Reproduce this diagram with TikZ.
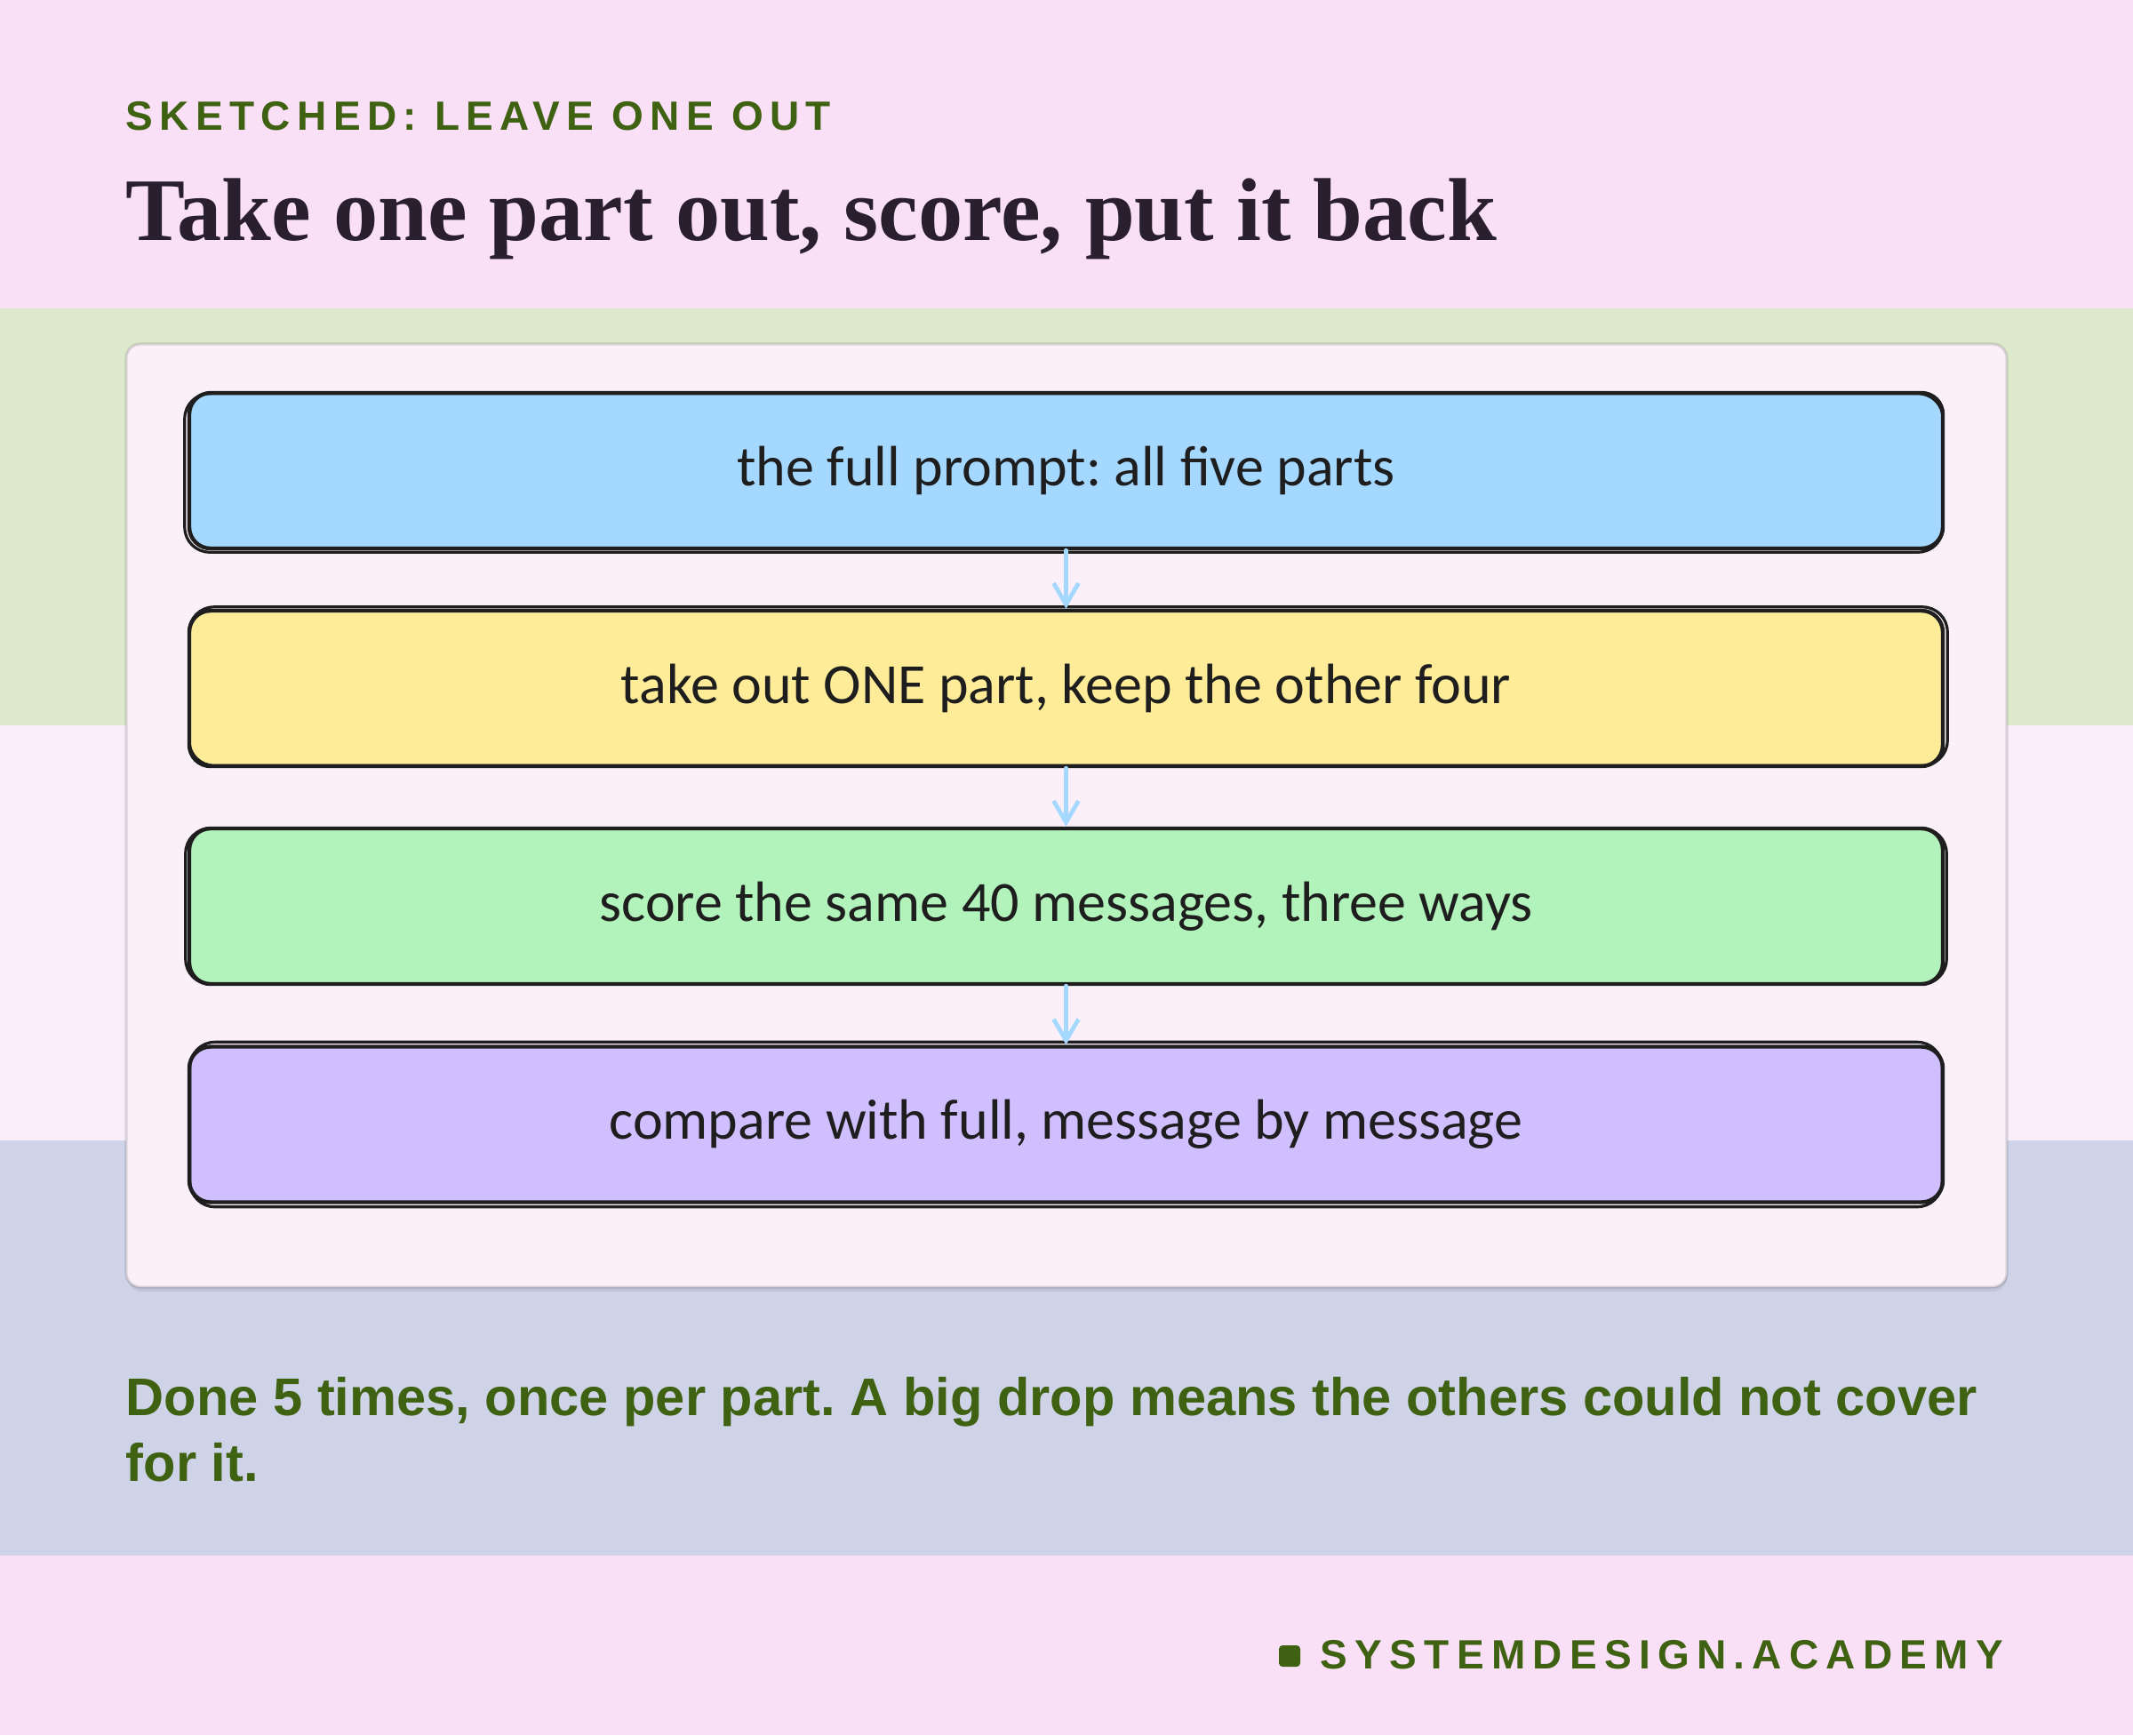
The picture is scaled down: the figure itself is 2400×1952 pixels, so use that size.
\documentclass[tikz,border=0pt]{standalone}
\usepackage{fontspec}
\setmainfont{Liberation Serif}
\newfontfamily\tagfont[LetterSpace=16]{Liberation Sans}
\newfontfamily\brandfont[LetterSpace=18]{Liberation Sans}
\newfontfamily\notefont{Liberation Sans}
\newfontfamily\handfont{Carlito}
\usetikzlibrary{arrows.meta}
\usetikzlibrary{calc}
\frenchspacing

\definecolor{bandpink}{HTML}{F9E0F7}
\definecolor{bandgreen}{HTML}{DDE9CC}
\definecolor{bandlight}{HTML}{FAEEF8}
\definecolor{bandblue}{HTML}{CFD3E8}
\definecolor{cardfill}{HTML}{FBF0F8}
\definecolor{leaf}{HTML}{3F6212}
\definecolor{ink}{HTML}{2A1F2E}
\definecolor{pen}{HTML}{1E1E1E}
\definecolor{sky}{HTML}{A5D8FF}
\definecolor{butter}{HTML}{FFEC99}
\definecolor{mint}{HTML}{B2F2BB}
\definecolor{lilac}{HTML}{D0BFFF}

\begin{document}
\begin{tikzpicture}[x=.25pt, y=-.25pt,
  stepbox/.style={inner sep=0, minimum width=493.25pt, minimum height=43.75pt,
    rounded corners=6pt, draw=pen, line width=1.1pt, font=\handfont\fontsize{16}{18}\selectfont, text=pen},
  sketch/.style={draw=pen, line width=.8pt, rounded corners=7pt},
  flow/.style={draw=sky, line width=1.2pt, line cap=round, -{Straight Barb[length=6pt,width=7pt]}},
  card/.style={fill=cardfill, draw=black, draw opacity=.12, line width=.8pt, rounded corners=4pt},
  words/.style={inner sep=0, anchor=base west}]

\useasboundingbox (0,0) rectangle (2400,1952);

% background bands
\fill[bandpink]  (0,0)    rectangle (2400,347);
\fill[bandgreen] (0,347)  rectangle (2400,816);
\fill[bandlight] (0,816)  rectangle (2400,1283);
\fill[bandblue]  (0,1283) rectangle (2400,1750);
\fill[bandpink]  (0,1750) rectangle (2400,1952);

% heading
\node[words, text=leaf, font=\tagfont\bfseries\fontsize{11.5}{13}\selectfont] (tag) at (141,146) {SKETCHED: LEAVE ONE OUT};
\node[words, text=ink, font=\bfseries\fontsize{25.1}{30}\selectfont] (title) at (141,270) {Take one part out, score, put it back};

% card
\fill[black, opacity=.07, rounded corners=4pt] (144,392) rectangle (2258,1453);
\draw[card] (142,387) rectangle (2258,1448);

\node[stepbox, fill=sky]    (b1) at (1199.5,529.5)  {the full prompt: all five parts};
\node[stepbox, fill=butter] (b2) at (1199.5,774.5)  {take out ONE part, keep the other four};
\node[stepbox, fill=mint]   (b3) at (1199.5,1019.5) {score the same 40 messages, three ways};
\node[stepbox, fill=lilac]  (b4) at (1199.5,1265)   {compare with full, message by message};

\foreach \n/\dx/\dy in {b1/-3/2,b2/2/-3,b3/-2/-2,b4/3/3}
{
\draw[sketch] ([shift={(\dx,\dy)}]\n.south west) rectangle ([shift={(-\dy,-\dx)}]\n.north east);
}

\draw[flow] (b1) edge (b2);
\draw[flow] (b2) edge (b3);
\draw[flow] (b3) edge (b4);

% footer
\node[words, text=leaf, font=\notefont\bfseries\fontsize{14.9}{18.5}\selectfont] (note1) at (141,1592) {Done 5 times, once per part. A big drop means the others could not cover};
\node[words, text=leaf, font=\notefont\bfseries\fontsize{14.9}{18.5}\selectfont] (note2) at (141,1666) {for it.};

\fill[leaf, rounded corners=1pt] (1439,1851) rectangle (1463,1875);
\node[words, text=leaf, font=\brandfont\bfseries\fontsize{11.5}{13}\selectfont] (brand) at (1485,1877) {SYSTEMDESIGN.ACADEMY};
\end{tikzpicture}
\end{document}
